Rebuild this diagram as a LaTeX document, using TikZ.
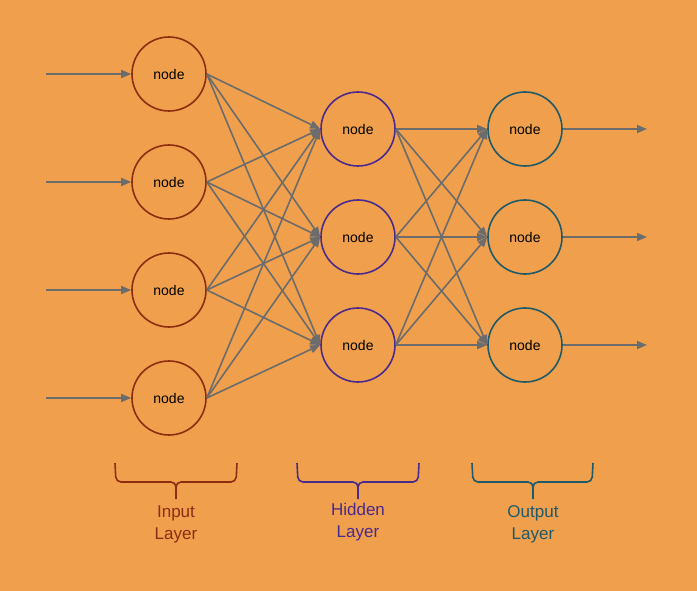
\documentclass[tikz,border=0pt]{standalone}
\usepackage{fontspec}
\setmainfont{Liberation Sans}
\usetikzlibrary{arrows.meta}
\definecolor{bg}{HTML}{F09F4C}
\definecolor{cin}{HTML}{8C2D10}
\definecolor{chid}{HTML}{4A2A8C}
\definecolor{cout}{HTML}{1E5A6A}
\definecolor{edge}{HTML}{6C6C6C}
\begin{document}
\begin{tikzpicture}[x=1pt,y=-1pt,
  neuron/.style={circle,draw,line width=1.6pt,minimum size=74pt,inner sep=0pt,font=\fontsize{14}{16}\selectfont},
  inn/.style={neuron,draw=cin},
  hid/.style={neuron,draw=chid},
  outn/.style={neuron,draw=cout},
  conn/.style={draw=edge,line width=1.6pt,-{Triangle[length=10pt,width=8pt]}},
  bracepath/.style={line width=1.6pt,rounded corners=5pt},
  lbl/.style={font=\fontsize{17}{22}\selectfont,align=center}]
\fill[bg] (0,0) rectangle (697,591);
\useasboundingbox (0,0) rectangle (697,591);
% input layer
\node[inn] (i1) at (169,74) {node};
\node[inn] (i2) at (169,182) {node};
\node[inn] (i3) at (169,290) {node};
\node[inn] (i4) at (169,398) {node};
% hidden layer
\node[hid] (h1) at (358,129) {node};
\node[hid] (h2) at (358,237) {node};
\node[hid] (h3) at (358,345) {node};
% output layer
\node[outn] (o1) at (525,129) {node};
\node[outn] (o2) at (525,237) {node};
\node[outn] (o3) at (525,345) {node};
% free ends
\coordinate (s1) at (46,74);
\coordinate (s2) at (46,182);
\coordinate (s3) at (46,290);
\coordinate (s4) at (46,398);
\coordinate (e1) at (647,129);
\coordinate (e2) at (647,237);
\coordinate (e3) at (647,345);
\foreach \k in {1,2,3,4} {\draw[conn] (s\k) -- (i\k.west);}
\foreach \k in {1,2,3} {\draw[conn] (o\k.east) -- (e\k);}
\foreach \a in {1,2,3,4} {\foreach \b in {1,2,3} {\draw[conn] (i\a.east) -- (h\b.west);}}
\foreach \a in {1,2,3} {\foreach \b in {1,2,3} {\draw[conn] (h\a.east) -- (o\b.west);}}
% braces
\draw[bracepath,cin] (115,463) -- (116,482) -- (176,482) -- (176,499);
\draw[bracepath,cin] (176,490) -- (176,482) -- (236,482) -- (237,463);
\draw[bracepath,chid] (297,463) -- (298,482) -- (358,482) -- (358,499);
\draw[bracepath,chid] (358,490) -- (358,482) -- (418,482) -- (419,463);
\draw[bracepath,cout] (472,463) -- (473,482) -- (533,482) -- (533,499);
\draw[bracepath,cout] (533,490) -- (533,482) -- (592,482) -- (593,463);
% labels
\node[lbl,text=cin] (li) at (176,524) {Input\\Layer};
\node[lbl,text=chid] (lh) at (358,522) {Hidden\\Layer};
\node[lbl,text=cout] (lo) at (533,524) {Output\\Layer};
\end{tikzpicture}
\end{document}
